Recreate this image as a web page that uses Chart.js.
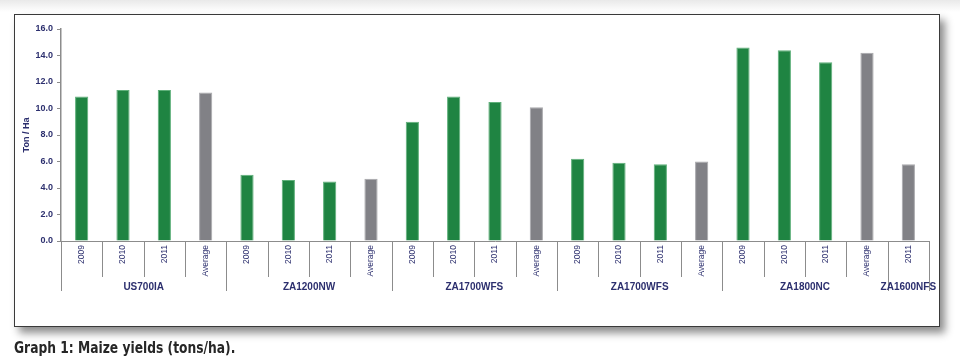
<!DOCTYPE html>
<html>
<head>
<meta charset="utf-8">
<script src="https://cdn.jsdelivr.net/npm/chart.js@4"></script>
<style>
  html, body { margin: 0; padding: 0; background: #fff; }
  body { width: 960px; height: 359px; position: relative; overflow: hidden;
         background: linear-gradient(#e9e9e9 0px, #ffffff 12px); }
  #frame { position: absolute; left: 14px; top: 14px; width: 924px; height: 311px;
           border: 1.5px solid #3a3a3a; background: #fff;
           box-shadow: 5px 6px 8px rgba(0,0,0,0.45); }
  #wrap { position: absolute; left: 0; top: 0; width: 960px; height: 359px; }
  #caption { position: absolute; left: 14px; top: 339px; font-family: "Liberation Sans Narrow", "DejaVu Sans Condensed", "Liberation Sans", sans-serif;
             font-weight: bold; font-size: 15px; color: #262626; white-space: nowrap;
             transform: scaleX(0.91); transform-origin: 0 0; }
</style>
</head>
<body>
<div id="frame"></div>
<div id="wrap"><canvas id="c" width="960" height="359"></canvas></div>
<div id="caption">Graph 1: Maize yields (tons/ha).</div>
<script>
const categoryLabels = ['2009','2010','2011','Average','2009','2010','2011','Average','2009','2010','2011','Average','2009','2010','2011','Average','2009','2010','2011','Average','2011'];
const groupNames = ['US700IA','ZA1200NW','ZA1700WFS','ZA1700WFS','ZA1800NC','ZA1600NFS'];
const groupSizes = [4, 4, 4, 4, 4, 1];
const yieldValues = [10.9, 11.4, 11.4, 11.2, 5.0, 4.6, 4.5, 4.7, 9.0, 10.9, 10.5, 10.1, 6.2, 5.9, 5.8, 6.0, 14.6, 14.4, 13.5, 14.2, 5.8];
const isAverage = [false,false,false,true,false,false,false,true,false,false,false,true,false,false,false,true,false,false,false,true,true];

const GREEN = '#1f8442', GREEN_EDGE = '#5fb07a';
const GREY = '#818186', GREY_EDGE = '#a8a8ac';
const NAVY = '#2c2f6e';
const AXIS = '#8c8c8c';

const groupPlugin = {
  id: 'groupPlugin',
  afterDraw(chart) {
    const ctx = chart.ctx;
    const x = chart.scales.x;
    const y0 = chart.scales.y.getPixelForValue(0);
    const n = categoryLabels.length;
    const step = (x.getPixelForValue(n - 1) - x.getPixelForValue(0)) / (n - 1);
    const edge = i => x.getPixelForValue(0) - step / 2 + i * step;
    ctx.save();
    ctx.strokeStyle = AXIS;
    ctx.lineWidth = 1;
    const bounds = new Set([0]);
    let acc = 0;
    groupSizes.forEach(s => { acc += s; bounds.add(acc); });
    for (let i = 0; i <= n; i++) {
      const px = Math.round(edge(i)) + 0.5;
      const len = bounds.has(i) ? 50 : 36;
      ctx.beginPath();
      ctx.moveTo(px, y0);
      ctx.lineTo(px, y0 + len);
      ctx.stroke();
    }
    ctx.fillStyle = NAVY;
    ctx.font = 'bold 10px "Liberation Sans", Arial, sans-serif';
    ctx.textAlign = 'center';
    ctx.textBaseline = 'middle';
    acc = 0;
    groupNames.forEach((g, gi) => {
      const cx = (edge(acc) + edge(acc + groupSizes[gi])) / 2;
      ctx.fillText(g, cx, y0 + 46);
      acc += groupSizes[gi];
    });
    ctx.restore();
  }
};

new Chart(document.getElementById('c'), {
  type: 'bar',
  data: {
    labels: categoryLabels,
    datasets: [{
      data: yieldValues,
      backgroundColor: isAverage.map(a => a ? GREY : GREEN),
      borderColor: isAverage.map(a => a ? GREY_EDGE : GREEN_EDGE),
      borderWidth: 1,
      barPercentage: 0.32,
      categoryPercentage: 1.0
    }]
  },
  options: {
    responsive: false,
    animation: false,
    devicePixelRatio: 1,
    layout: { padding: { left: 0, top: 29, right: 31, bottom: 0 } },
    plugins: { legend: { display: false }, tooltip: { enabled: false } },
    scales: {
      x: {
        grid: { display: false, drawTicks: false },
        border: { display: true, color: AXIS, width: 1 },
        ticks: {
          color: NAVY, minRotation: 90, maxRotation: 90, padding: 4, autoSkip: false,
          font: { family: '"Liberation Sans", Arial, sans-serif', size: 8.5 }
        },
        afterFit(s) { s.height = 118; }
      },
      y: {
        min: 0, max: 16,
        grid: { drawOnChartArea: false, drawTicks: true, tickLength: 4, color: AXIS },
        border: { display: true, color: AXIS, width: 1.5 },
        ticks: {
          stepSize: 2, color: NAVY, padding: 4,
          callback: v => Number(v).toFixed(1),
          font: { family: '"Liberation Sans", Arial, sans-serif', size: 9, weight: 'bold' }
        },
        title: {
          display: true, text: 'Ton / Ha', color: NAVY,
          padding: { top: 21, bottom: 0 },
          font: { family: '"Liberation Sans", Arial, sans-serif', size: 9, weight: 'bold' }
        },
        afterFit(s) { s.width = 61; }
      }
    }
  },
  plugins: [groupPlugin]
});
</script>
</body>
</html>
